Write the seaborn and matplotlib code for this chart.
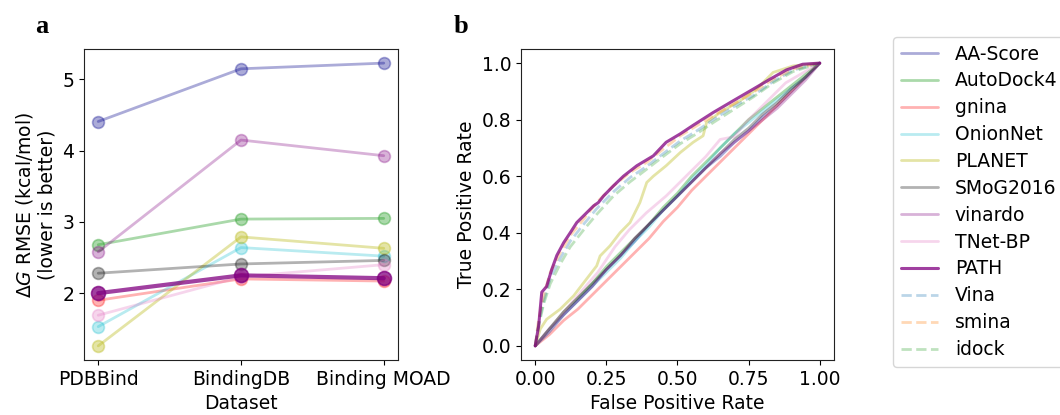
import numpy as np
import pandas as pd
import seaborn as sns
import matplotlib.pyplot as plt

# =========================================================
# DATA
# =========================================================

datasets = ["PDBBind", "BindingDB", "Binding MOAD"]

methods = ["AA-Score", "AutoDock4", "gnina", "OnionNet", "PLANET",
           "SMoG2016", "vinardo", "TNet-BP", "PATH"]

rmse_aa_score = [4.41, 5.15, 5.23]
rmse_autodock4 = [2.68, 3.04, 3.05]
rmse_gnina = [1.90, 2.20, 2.17]
rmse_onionnet = [1.53, 2.64, 2.52]
rmse_planet = [1.26, 2.79, 2.63]
rmse_smog2016 = [2.28, 2.41, 2.46]
rmse_vinardo = [2.58, 4.15, 3.93]
rmse_tnet_bp = [1.69, 2.23, 2.40]
rmse_path = [2.00, 2.25, 2.21]

rmse = {
    "AA-Score": rmse_aa_score, "AutoDock4": rmse_autodock4, "gnina": rmse_gnina,
    "OnionNet": rmse_onionnet, "PLANET": rmse_planet, "SMoG2016": rmse_smog2016,
    "vinardo": rmse_vinardo, "TNet-BP": rmse_tnet_bp, "PATH": rmse_path,
}

# ROC curves
fpr_grid = [0, .05, .1, .15, .2, .25, .3, .35, .4, .45, .5, .55, .6, .65, .7, .75, .8, .85, .9, .95, 1]
tpr_aa_score = [0, .06, .11, .16, .21, .27, .32, .37, .43, .48, .53, .58, .63, .67, .72, .76, .81, .85, .90, .95, 1]
tpr_autodock4 = [0, .06, .12, .17, .22, .28, .33, .38, .43, .49, .54, .60, .65, .70, .75, .80, .84, .88, .92, .96, 1]
tpr_gnina = [0, .04, .09, .13, .18, .23, .28, .33, .38, .44, .49, .55, .60, .65, .70, .75, .80, .85, .90, .95, 1]
tpr_onionnet = [0, .05, .11, .16, .21, .26, .31, .37, .42, .48, .53, .59, .64, .70, .75, .79, .83, .87, .91, .95, 1]
tpr_smog2016 = [0, .06, .12, .17, .22, .27, .32, .38, .43, .48, .53, .58, .63, .68, .73, .77, .82, .86, .91, .95, 1]
tpr_vinardo = [0, .05, .11, .16, .21, .27, .32, .38, .43, .48, .53, .58, .63, .68, .72, .76, .80, .84, .89, .94, 1]

fpr_tnet_bp = [0, .04, .1, .16, .22, .28, .33, .39, .46, .53, .6, .65, .7, .74, .81, .88, 1]
tpr_tnet_bp = [0, .05, .12, .19, .26, .35, .41, .47, .53, .60, .67, .73, .74, .79, .86, .93, 1]

fpr_planet = [0, .018, .04, .088, .135, .18, .216, .228, .263, .298, .333, .368, .392,
              .415, .46, .51, .555, .59, .602, .649, .72, .778, .836, .906, 1]
tpr_planet = [0, .06, .094, .13, .177, .236, .283, .318, .354, .40, .436, .507, .578,
              .60, .637, .684, .72, .743, .79, .825, .867, .908, .967, .99, 1]

fpr_path = [0, .012, .023, .04, .058, .076, .1, .123, .146, .17, .205, .222, .24, .275,
            .31, .357, .415, .46, .51, .555, .625, .696, .766, .825, .883, .94, 1]
tpr_path = [0, .07, .19, .21, .27, .32, .365, .40, .436, .46, .495, .507, .53, .566,
            .60, .637, .672, .72, .75, .78, .825, .867, .908, .943, .976, .996, 1]

fpr_dock = [0, .012, .03, .053, .088, .123, .17, .216, .275, .333, .392, .45, .51,
            .567, .626, .696, .766, .836, .906, 1]
tpr_vina = [0, .08, .16, .24, .31, .37, .43, .485, .545, .595, .635, .68, .725,
            .76, .80, .845, .885, .935, .975, 1]
tpr_smina = [0, .094, .18, .26, .33, .39, .448, .507, .566, .613, .649, .696, .743,
             .778, .814, .855, .896, .943, .979, 1]
tpr_idock = [0, .07, .15, .22, .29, .35, .41, .465, .53, .58, .625, .67, .715,
             .75, .79, .835, .88, .93, .97, 1]

roc = {
    "AA-Score": (fpr_grid, tpr_aa_score), "AutoDock4": (fpr_grid, tpr_autodock4),
    "gnina": (fpr_grid, tpr_gnina), "OnionNet": (fpr_grid, tpr_onionnet),
    "PLANET": (fpr_planet, tpr_planet), "SMoG2016": (fpr_grid, tpr_smog2016),
    "vinardo": (fpr_grid, tpr_vinardo), "TNet-BP": (fpr_tnet_bp, tpr_tnet_bp),
    "PATH": (fpr_path, tpr_path),
    "Vina": (fpr_dock, tpr_vina), "smina": (fpr_dock, tpr_smina), "idock": (fpr_dock, tpr_idock),
}

# =========================================================
# STYLE
# =========================================================

colors = {
    "AA-Score": ("darkblue", 0.33), "AutoDock4": ("tab:green", 0.4),
    "gnina": ("red", 0.3), "OnionNet": ("tab:cyan", 0.3),
    "PLANET": ("tab:olive", 0.4), "SMoG2016": ("black", 0.3),
    "vinardo": ("purple", 0.3), "TNet-BP": ("tab:pink", 0.3),
    "PATH": ("purple", 0.75),
    "Vina": ("tab:blue", 0.3), "smina": ("tab:orange", 0.3), "idock": ("tab:green", 0.3),
}

sns.set_style("ticks")
plt.rcParams["font.family"] = ["DejaVu Sans"]
plt.rcParams["font.size"] = 13.5
for key in ["text.color", "axes.labelcolor", "xtick.color", "ytick.color"]:
    plt.rcParams[key] = "black"
plt.rcParams["axes.edgecolor"] = "#222222"

fs = 13.5

fig = plt.figure(figsize=(10.6, 4.15), dpi=100)
ax1 = fig.add_axes([0.0792, 0.1325, 0.2963, 0.7495])
ax2 = fig.add_axes([0.4915, 0.1325, 0.2953, 0.7495])

# =========================================================
# PANEL A
# =========================================================

for m in methods:
    c, a = colors[m]
    df = pd.DataFrame({"Dataset": datasets, "RMSE": rmse[m]})
    is_path = m == "PATH"
    sns.lineplot(data=df, x="Dataset", y="RMSE", ax=ax1, color=c, alpha=a,
                 marker="o", markersize=10 if is_path else 8.5,
                 linewidth=3 if is_path else 2, markeredgecolor=c,
                 markeredgewidth=1.2, sort=False, zorder=3 if is_path else 2)

ax1.set_xlabel("Dataset", fontsize=fs)
ax1.set_ylabel("$\\Delta G$ RMSE (kcal/mol)\n(lower is better)", fontsize=fs)
ax1.set_yticks([2, 3, 4, 5])
ax1.tick_params(labelsize=fs)

# =========================================================
# PANEL B
# =========================================================

for m, (fx, ty) in roc.items():
    c, a = colors[m]
    df = pd.DataFrame({"fpr": fx, "tpr": ty})
    dashed = m in ("Vina", "smina", "idock")
    sns.lineplot(data=df, x="fpr", y="tpr", ax=ax2, color=c,
                 alpha=0.85 if m == "PATH" else a,
                 linewidth=2.2 if m == "PATH" else 2, sort=False, estimator=None,
                 linestyle="--" if dashed else "-", label=m,
                 zorder=3 if m == "PATH" else 2)

ax2.set_xlabel("False Positive Rate", fontsize=fs)
ax2.set_ylabel("True Positive Rate", fontsize=fs)
ax2.set_xticks([0, 0.25, 0.5, 0.75, 1.0])
ax2.set_xticklabels(["0.00", "0.25", "0.50", "0.75", "1.00"])
ax2.set_yticks([0, 0.2, 0.4, 0.6, 0.8, 1.0])
ax2.tick_params(labelsize=fs)

handles, labels = ax2.get_legend_handles_labels()
for h in handles:
    if h.get_label() == "PATH":
        h.set_alpha(0.75)
ax2.get_legend().remove()
fig.legend(handles, labels, loc="upper left", bbox_to_anchor=(893 / 1060, 1 - 37 / 415),
           fontsize=fs, frameon=True, borderaxespad=0, handletextpad=0.9,
           labelspacing=0.42)

fig.text(0.033, 0.92, "a", fontsize=19, fontweight="bold", family="Liberation Serif")
fig.text(0.428, 0.92, "b", fontsize=19, fontweight="bold", family="Liberation Serif")

fig.savefig("out.png", dpi=100)
